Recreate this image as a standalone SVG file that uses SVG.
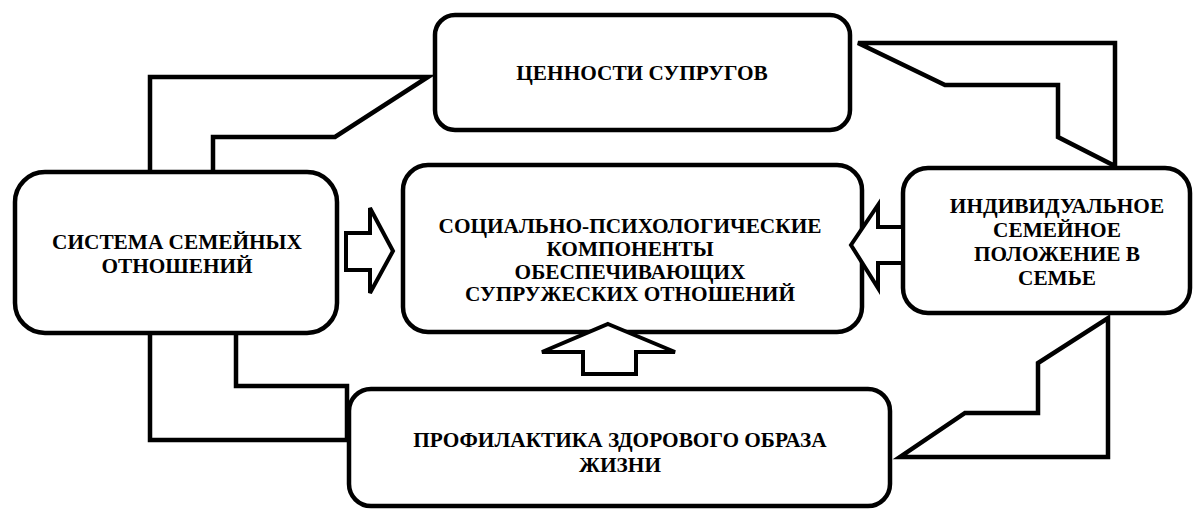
<svg xmlns="http://www.w3.org/2000/svg" width="1200" height="509" viewBox="0 0 1200 509">
<style>
.box{fill:#fff;stroke:#000;stroke-width:4.5}
.con{fill:none;stroke:#000;stroke-width:4.5;stroke-linejoin:miter}
.arr{fill:#fff;stroke:#000;stroke-width:4}
</style>
<rect width="1200" height="509" fill="#fff"/>
<g id="connectors">
<polyline class="con" points="150,172 150,77 428,77 335,137 213,137 213,172"/>
<polygon class="con" points="858,43 1115,43 1115,166 1058,137 1058,85 945,85"/>
<polygon class="con" points="1108,318 1108,457 900,457 965,413 1038,413 1038,363"/>
<polyline class="con" points="150,333 150,440 347,440 347,386 236,386 236,333"/>
</g>
<g font-family="Liberation Serif, Times New Roman, serif" font-weight="bold" font-size="21.3" text-anchor="middle" fill="#000">
<g id="n-values">
<rect class="box" x="435" y="15" width="415" height="115" rx="20"/>
<text x="642" y="80">ЦЕННОСТИ СУПРУГОВ</text>
</g>
<g id="n-system">
<rect class="box" x="15" y="172" width="322" height="161" rx="30"/>
<text x="177" y="249">СИСТЕМА СЕМЕЙНЫХ</text>
<text x="177" y="273">ОТНОШЕНИЙ</text>
</g>
<g id="n-center">
<rect class="box" x="403" y="165" width="459" height="167" rx="25"/>
<text x="630" y="233">СОЦИАЛЬНО-ПСИХОЛОГИЧЕСКИЕ</text>
<text x="630" y="256">КОМПОНЕНТЫ</text>
<text x="630" y="279">ОБЕСПЕЧИВАЮЩИХ</text>
<text x="630" y="301">СУПРУЖЕСКИХ ОТНОШЕНИЙ</text>
</g>
<g id="n-individual">
<rect class="box" x="903" y="168" width="287" height="145" rx="25"/>
<text x="1057" y="213">ИНДИВИДУАЛЬНОЕ</text>
<text x="1057" y="237">СЕМЕЙНОЕ</text>
<text x="1057" y="261">ПОЛОЖЕНИЕ В</text>
<text x="1057" y="285">СЕМЬЕ</text>
</g>
<g id="n-health">
<rect class="box" x="349" y="389" width="541" height="117" rx="22"/>
<text x="620" y="447">ПРОФИЛАКТИКА ЗДОРОВОГО ОБРАЗА</text>
<text x="620" y="472">ЖИЗНИ</text>
</g>
</g>
<g id="arrows">
<polygon class="arr" points="346,233 370,233 370,208 393,251 370,293 370,270 346,270"/>
<polygon class="arr" points="903,227 878,227 878,205 851,245 878,288 878,263 903,263"/>
<polygon class="arr" points="608,324 675,352 636,352 636,374 583,374 583,352 542,352"/>
</g>
</svg>
